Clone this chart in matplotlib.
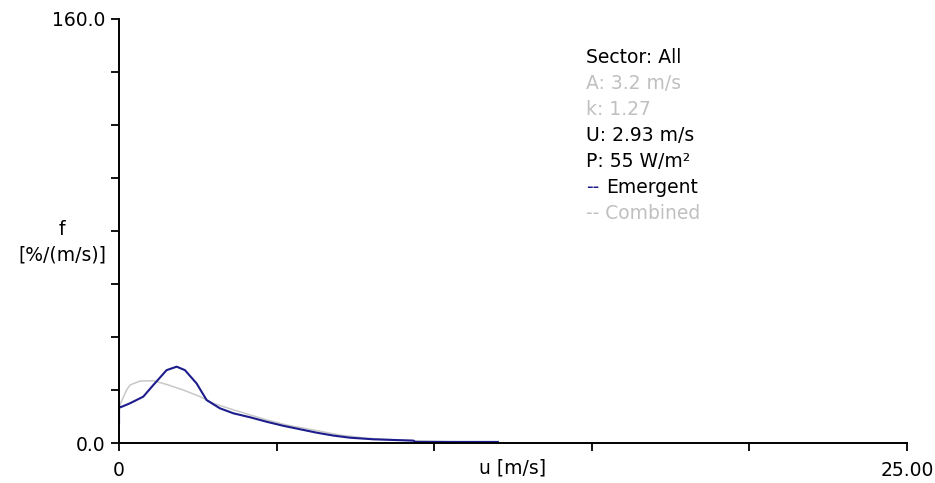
import matplotlib
matplotlib.use("Agg")
import matplotlib.pyplot as plt

# ----- data -----
u_emergent = [0.0, 0.0, 0.05, 0.35, 0.77, 1.09, 1.51, 1.83, 2.09, 2.46, 2.78,
              3.2, 3.63, 4.16, 4.69, 5.21, 5.74, 6.27, 6.80, 7.33, 8.07,
              9.34, 9.40, 12.02]
f_emergent = [7.4, 13.7, 13.5, 15.0, 17.5, 21.9, 27.5, 28.8, 27.5, 22.5, 16.2,
              13.1, 11.2, 9.7, 8.0, 6.5, 5.2, 3.9, 2.8, 2.0, 1.4,
              0.9, 0.4, 0.4]

u_combined = [0.0, 0.05, 0.24, 0.35, 0.67, 1.09, 1.51, 2.04, 2.57, 2.99,
              3.63, 4.16, 4.69, 5.32, 6.17, 7.01, 7.86, 9.0, 10.5, 12.0]
f_combined = [12.0, 15.0, 20.0, 21.9, 23.4, 23.5, 22.1, 20.0, 17.5, 15.0,
              12.5, 10.6, 8.7, 6.8, 4.9, 3.0, 1.8, 1.0, 0.5, 0.3]

x_ticks = [0, 5, 10, 15, 20, 25]
x_ticklabels = ["0", "", "", "", "", "25.00"]
y_ticks = [0, 20, 40, 60, 80, 100, 120, 140, 160]
y_ticklabels = ["0.0", "", "", "", "", "", "", "", "160.0"]

info_lines = [("Sector: All", "black"),
              ("A: 3.2 m/s", "#c0c0c0"),
              ("k: 1.27", "#c0c0c0"),
              ("U: 2.93 m/s", "black"),
              ("P: 55 W/m²", "black")]

BLUE = "#1c1c8c"
GREY = "#c8c8c8"
FS = 13.5

plt.rcParams["font.family"] = ["DejaVu Sans"]

fig = plt.figure(figsize=(9.35, 4.83), dpi=100)
ax = fig.add_axes([0.1273, 0.0828, 0.970 - 0.1273, 0.9607 - 0.0828])

ax.plot(u_combined, f_combined, color=GREY, linewidth=1.1)
ax.plot(u_emergent, f_emergent, color=BLUE, linewidth=1.5)

ax.set_xlim(0, 25)
ax.set_ylim(0, 160)
ax.set_xticks(x_ticks)
ax.set_xticklabels(x_ticklabels)
ax.set_yticks(y_ticks)
ax.set_yticklabels(y_ticklabels)
ax.tick_params(direction="out", length=6, width=1.3, colors="black",
               labelsize=FS)
ax.tick_params(axis="x", pad=7)
ax.tick_params(axis="y", pad=4)

for s in ["top", "right"]:
    ax.spines[s].set_visible(False)
for s in ["left", "bottom"]:
    ax.spines[s].set_linewidth(1.4)

# axis titles
ax.text(12.5, -9.4, "u [m/s]", ha="center", va="center", fontsize=FS, clip_on=False)
ax.text(-1.8, 80.5, "f", ha="center", va="center", fontsize=FS, clip_on=False)
ax.text(-1.8, 71, "[%/(m/s)]", ha="center", va="center", fontsize=FS, clip_on=False)

# info block
x0 = 14.83
y0 = 145.5
dy = 9.8
for i, (txt, col) in enumerate(info_lines):
    ax.text(x0, y0 - i * dy, txt, color=col, fontsize=FS, va="center", ha="left")

yl = y0 - len(info_lines) * dy
ax.text(x0, yl, "--", color=BLUE, fontsize=FS, va="center", ha="left")
ax.text(x0 + 0.62, yl, "Emergent", color="black", fontsize=FS, va="center", ha="left")
yl2 = yl - dy
ax.text(x0, yl2, "-- Combined", color="#c0c0c0", fontsize=FS, va="center", ha="left")

fig.savefig("out.png", dpi=100)
